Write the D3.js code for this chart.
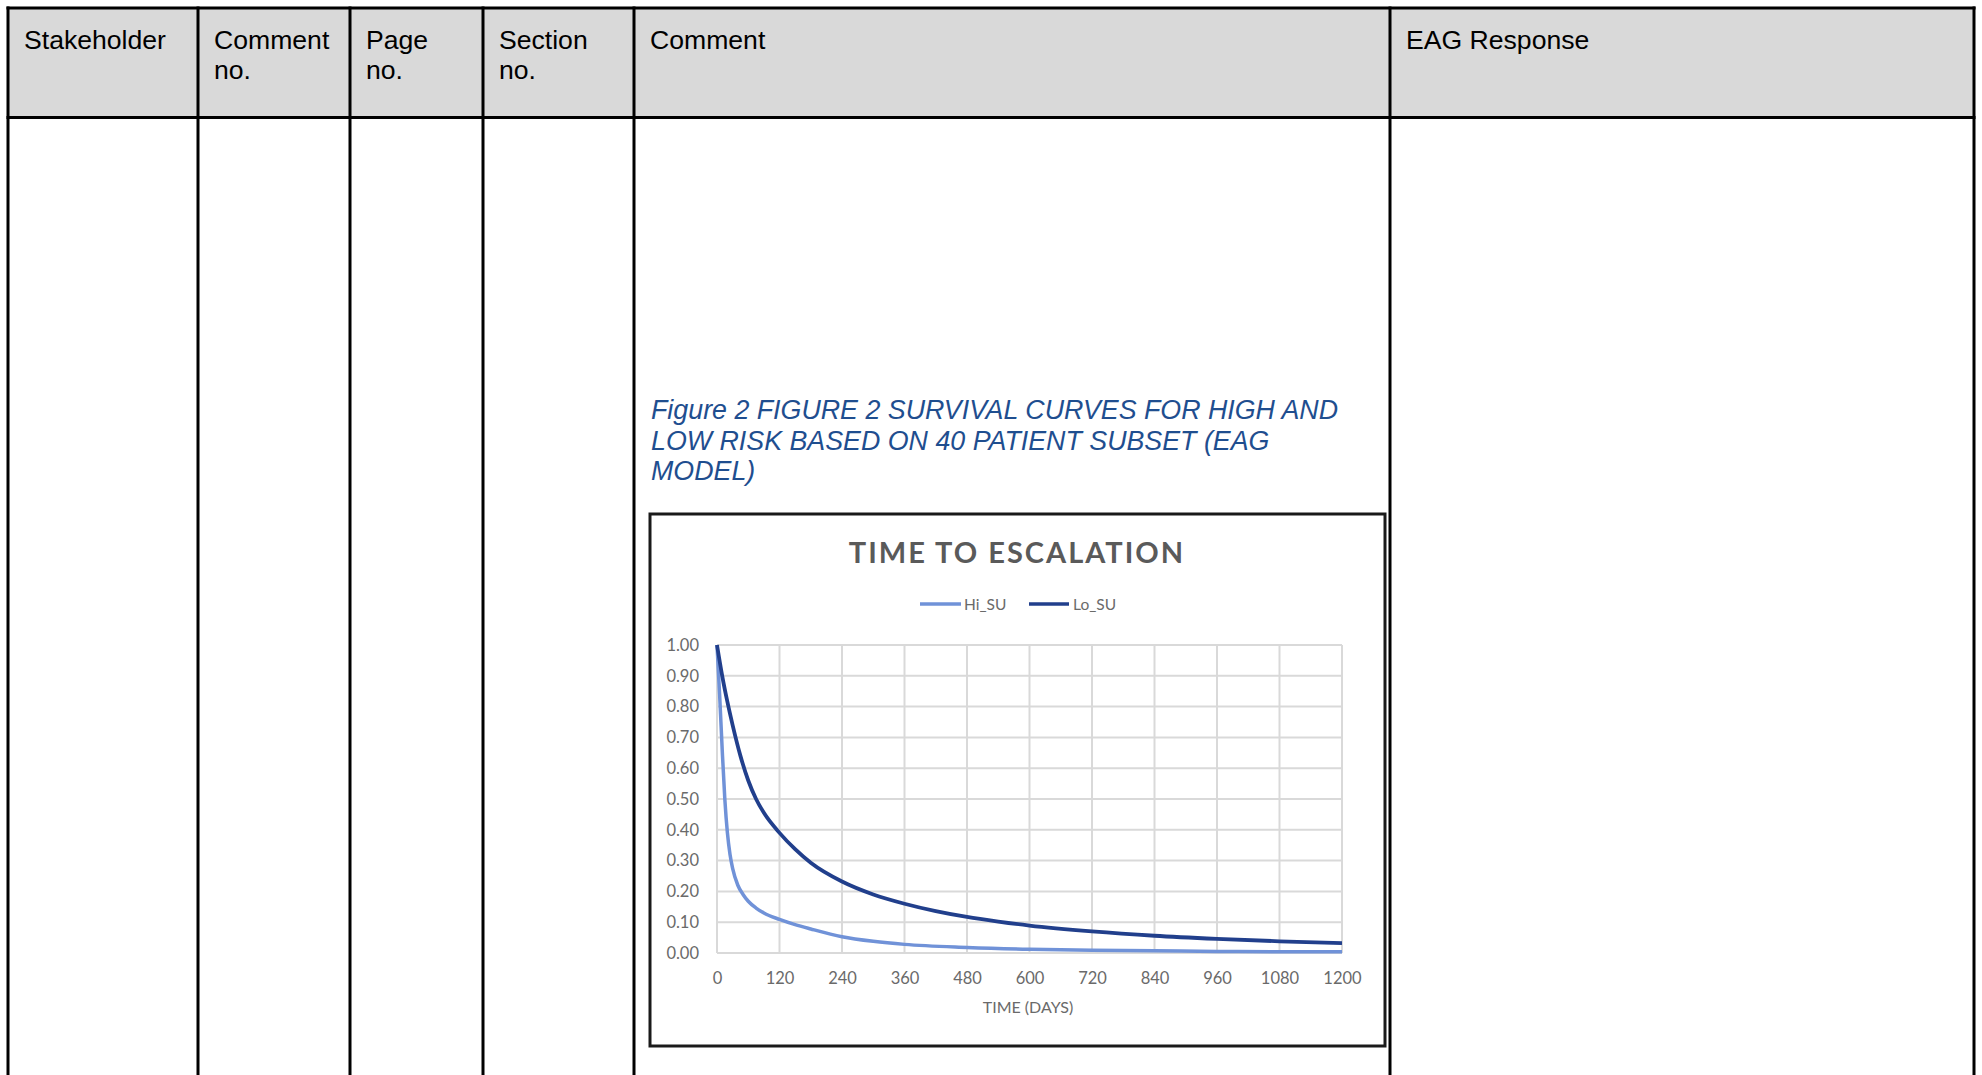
<!DOCTYPE html>
<html>
<head>
<meta charset="utf-8">
<script src="https://cdn.jsdelivr.net/npm/d3@7/dist/d3.min.js"></script>
<style>
  html, body { margin: 0; padding: 0; background: #fff; overflow: hidden; }
  svg { display: block; }
</style>
</head>
<body>
<svg id="page" width="1982" height="1075"></svg>
<script>
// ---------------- data ----------------
const headerLabels = [["Stakeholder"], ["Comment", "no."], ["Page", "no."], ["Section", "no."], ["Comment"], ["EAG Response"]];
const captionLines = ["Figure 2 FIGURE 2 SURVIVAL CURVES FOR HIGH AND", "LOW RISK BASED ON 40 PATIENT SUBSET (EAG", "MODEL)"];
const chartTitle = "TIME TO ESCALATION";
const xAxisTitle = "TIME (DAYS)";
const seriesNames = ["Hi_SU", "Lo_SU"];

const hiDays = [0, 5, 10, 15, 20, 25, 30, 40, 50, 60, 75, 90, 120, 150, 180, 240, 300, 360, 480, 600, 720, 840, 960, 1080, 1200];
const hiSU   = [1.00, 0.84, 0.66, 0.50, 0.39, 0.32, 0.275, 0.22, 0.19, 0.168, 0.146, 0.13, 0.109, 0.092, 0.078, 0.053, 0.038, 0.028, 0.018, 0.012, 0.009, 0.007, 0.005, 0.004, 0.004];

const loDays = [0, 10, 20, 30, 45, 60, 75, 90, 120, 150, 180, 240, 300, 360, 420, 480, 540, 600, 720, 840, 960, 1080, 1200];
const loSU   = [1.00, 0.90, 0.815, 0.74, 0.64, 0.56, 0.50, 0.455, 0.39, 0.337, 0.293, 0.232, 0.19, 0.160, 0.136, 0.117, 0.102, 0.089, 0.070, 0.056, 0.046, 0.038, 0.032];

const yTicks = [0.00, 0.10, 0.20, 0.30, 0.40, 0.50, 0.60, 0.70, 0.80, 0.90, 1.00];
const xTicks = [0, 120, 240, 360, 480, 600, 720, 840, 960, 1080, 1200];

// ---------------- layout ----------------
const svg = d3.select("#page");
const colX = [8, 198, 350, 483, 634, 1390, 1974];
const headTop = 8, headBottom = 117.5, pageBottom = 1075;
const arial = "'Liberation Sans', Arial, Helvetica, sans-serif";
const calibri = "Lato, Carlito, Calibri, sans-serif";

// header background
svg.append("rect").attr("x", colX[0]).attr("y", headTop)
  .attr("width", colX[colX.length - 1] - colX[0]).attr("height", headBottom - headTop)
  .attr("fill", "#d9d9d9");

// header text
headerLabels.forEach((lines, i) => {
  const t = svg.append("text").attr("x", colX[i] + 16).attr("y", 49)
    .attr("font-family", arial).attr("font-size", 26.6).attr("fill", "#000");
  lines.forEach((l, j) => t.append("tspan").attr("x", colX[i] + 16).attr("dy", j === 0 ? 0 : 30).text(l));
});

// table lines
const lines = svg.append("g").attr("stroke", "#000").attr("stroke-width", 3);
lines.append("line").attr("x1", colX[0] - 1.5).attr("x2", colX[colX.length - 1] + 1.5).attr("y1", headTop).attr("y2", headTop);
lines.append("line").attr("x1", colX[0] - 1.5).attr("x2", colX[colX.length - 1] + 1.5).attr("y1", headBottom).attr("y2", headBottom);
colX.forEach(x => lines.append("line").attr("x1", x).attr("x2", x).attr("y1", headTop - 1.5).attr("y2", pageBottom));

// caption
const cap = svg.append("text").attr("font-family", arial).attr("font-style", "italic")
  .attr("font-size", 26.8).attr("fill", "#1f4e8f");
captionLines.forEach((l, i) => cap.append("tspan").attr("x", 651).attr("y", 419 + i * 30.5).text(l));

// chart frame
svg.append("rect").attr("x", 650).attr("y", 514).attr("width", 735).attr("height", 532)
  .attr("fill", "#fff").attr("stroke", "#1a1a1a").attr("stroke-width", 3);

// title
svg.append("text").attr("x", 1017).attr("y", 563).attr("text-anchor", "middle")
  .attr("font-family", calibri).attr("font-weight", 700).attr("font-size", 29)
  .attr("letter-spacing", 2).attr("fill", "#5a5a5a").text(chartTitle);

// scales
const x = d3.scaleLinear().domain([0, 1200]).range([717, 1342]);
const y = d3.scaleLinear().domain([0, 1]).range([953, 645]);
const colors = { Hi_SU: "#7092d8", Lo_SU: "#213f8c" };

// grid
const grid = svg.append("g").attr("stroke", "#d9d9d9").attr("stroke-width", 2);
yTicks.forEach(v => grid.append("line").attr("x1", x(0)).attr("x2", x(1200)).attr("y1", y(v)).attr("y2", y(v)));
xTicks.forEach(v => grid.append("line").attr("x1", x(v)).attr("x2", x(v)).attr("y1", y(0)).attr("y2", y(1)));

// axes
const yAxis = svg.append("g").attr("transform", `translate(${x(0)},0)`)
  .call(d3.axisLeft(y).tickValues(yTicks).tickFormat(d3.format(".2f")).tickSize(0).tickPadding(18));
const xAxis = svg.append("g").attr("transform", `translate(0,${y(0)})`)
  .call(d3.axisBottom(x).tickValues(xTicks).tickFormat(d3.format("d")).tickSize(0).tickPadding(19));
[yAxis, xAxis].forEach(a => {
  a.select(".domain").remove();
  a.selectAll("text").attr("font-family", calibri).attr("font-size", 16.5).attr("fill", "#6a6a6a");
});

// axis title
svg.append("text").attr("x", 1028).attr("y", 1013).attr("text-anchor", "middle")
  .attr("font-family", calibri).attr("font-size", 16).attr("fill", "#6a6a6a").text(xAxisTitle);

// curves
const line = d3.line().x(d => x(d[0])).y(d => y(d[1])).curve(d3.curveMonotoneX);
const hiData = hiDays.map((d, i) => [d, hiSU[i]]);
const loData = loDays.map((d, i) => [d, loSU[i]]);
svg.append("path").datum(hiData).attr("d", line).attr("fill", "none")
  .attr("stroke", colors.Hi_SU).attr("stroke-width", 3.5).attr("stroke-linejoin", "round");
svg.append("path").datum(loData).attr("d", line).attr("fill", "none")
  .attr("stroke", colors.Lo_SU).attr("stroke-width", 3.8).attr("stroke-linejoin", "round");

// legend
const legendItems = [{ name: seriesNames[0], x1: 920, x2: 961, tx: 964 }, { name: seriesNames[1], x1: 1029, x2: 1069, tx: 1073 }];
const lg = svg.append("g");
legendItems.forEach(it => {
  lg.append("line").attr("x1", it.x1).attr("x2", it.x2).attr("y1", 604).attr("y2", 604)
    .attr("stroke", colors[it.name]).attr("stroke-width", 3.5);
  lg.append("text").attr("x", it.tx).attr("y", 609.5).attr("font-family", calibri)
    .attr("font-size", 15.5).attr("fill", "#6a6a6a").text(it.name);
});
</script>
</body>
</html>
